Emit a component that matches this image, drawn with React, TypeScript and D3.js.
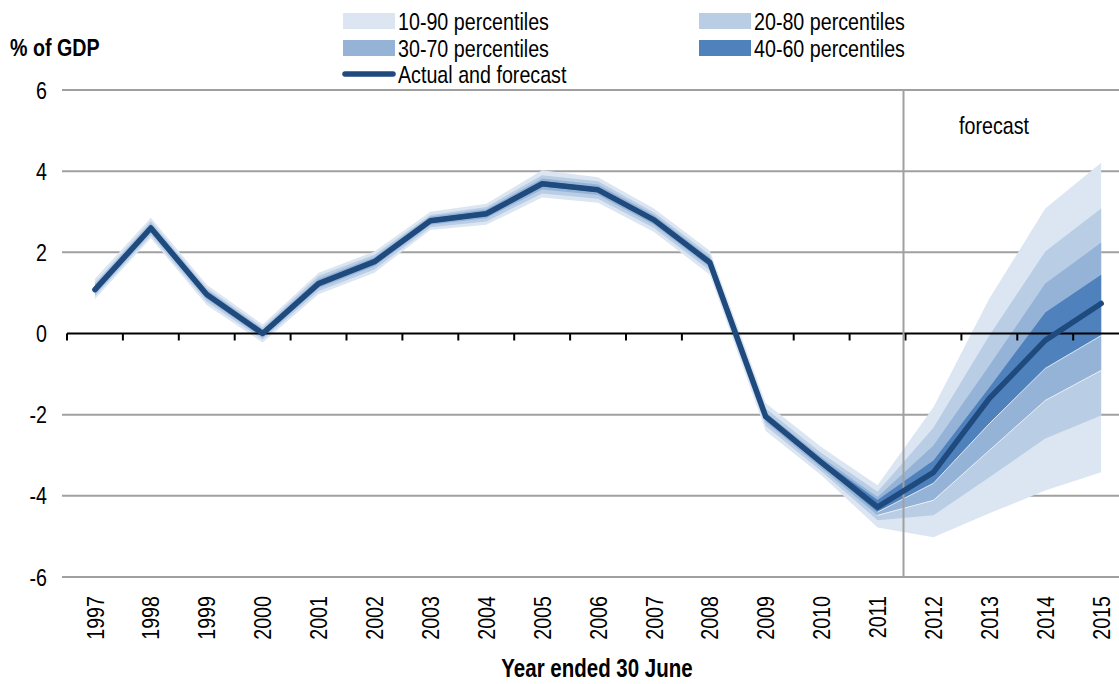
import React, { useEffect, useRef } from 'react';
import * as d3 from 'd3';

// Year ended 30 June
const years = ['1997', '1998', '1999', '2000', '2001', '2002', '2003', '2004', '2005', '2006',
  '2007', '2008', '2009', '2010', '2011', '2012', '2013', '2014', '2015'];

// Actual and forecast (% of GDP)
const central = [1.08, 2.6, 0.96, 0.0, 1.23, 1.77, 2.78, 2.95, 3.69, 3.54, 2.8, 1.75, -2.05, -3.18, -4.28, -3.42, -1.6, -0.17, 0.74];

// percentile bands
const p10 = [0.85, 2.35, 0.7, -0.22, 0.97, 1.5, 2.55, 2.68, 3.35, 3.22, 2.5, 1.45, -2.4, -3.5, -4.78, -5.02, -4.43, -3.87, -3.42];
const p90 = [1.35, 2.85, 1.2, 0.22, 1.5, 2.02, 3.0, 3.2, 4.02, 3.85, 3.08, 2.04, -1.72, -2.8, -3.74, -1.82, 0.86, 3.08, 4.21];
const p20 = [0.92, 2.42, 0.78, -0.15, 1.05, 1.58, 2.62, 2.76, 3.45, 3.32, 2.6, 1.55, -2.28, -3.4, -4.6, -4.48, -3.54, -2.59, -2.02];
const p80 = [1.25, 2.77, 1.12, 0.15, 1.42, 1.94, 2.92, 3.12, 3.9, 3.75, 2.98, 1.94, -1.85, -2.95, -3.9, -2.32, -0.05, 2.02, 3.08];
const p30 = [0.97, 2.49, 0.85, -0.1, 1.12, 1.66, 2.68, 2.84, 3.55, 3.41, 2.68, 1.63, -2.18, -3.32, -4.48, -4.11, -2.88, -1.65, -0.91];
const p70 = [1.2, 2.71, 1.07, 0.1, 1.35, 1.88, 2.88, 3.06, 3.82, 3.67, 2.92, 1.87, -1.94, -3.05, -4.03, -2.76, -0.79, 1.23, 2.24];
const p40 = [1.02, 2.54, 0.9, -0.05, 1.17, 1.71, 2.72, 2.89, 3.62, 3.48, 2.74, 1.69, -2.12, -3.25, -4.4, -3.69, -2.22, -0.86, -0.05];
const p60 = [1.14, 2.66, 1.02, 0.05, 1.29, 1.83, 2.84, 3.01, 3.76, 3.6, 2.86, 1.81, -1.99, -3.11, -4.1, -3.13, -1.33, 0.52, 1.45];

const yTicks = [6, 4, 2, 0, -2, -4, -6];
const forecastStart = '2012';
const lastActual = '2011';

const bandLabels = ['10-90 percentiles', '20-80 percentiles', '30-70 percentiles', '40-60 percentiles'];
const bandColors = ['#dce6f2', '#b9cde5', '#95b3d7', '#4f81bd'];
const lineColor = '#1f4a7e';
const lineLabel = 'Actual and forecast';

// no Arial Narrow here: squeeze Liberation Sans (Arial metrics) to 82%
const FONT = '"Liberation Sans", Arial, sans-serif';
const NARROW = 0.82;

const App = () => {
  const svgRef = useRef(null);

  useEffect(() => {
    if (!svgRef.current) return;
    const svg = d3.select(svgRef.current);
    svg.selectAll('*').remove();

    const W = 1119;
    const left = 67;
    const step = 55.9;

    const x = d3.scaleBand().domain(years).range([left, left + step * years.length]).padding(0);
    const cx = (yr) => x(yr) + x.bandwidth() / 2;
    const y = d3.scaleLinear().domain([-6, 6]).range([577, 90]);

    const label = (g, tx, ty, txt, opts: any = {}) => {
      const t = g.append('text')
        .attr('transform', `translate(${tx},${ty})${opts.rotate ? ' rotate(-90)' : ''} scale(${NARROW},1)`)
        .attr('font-family', FONT)
        .attr('font-size', opts.size || 24)
        .attr('fill', '#000')
        .attr('text-anchor', opts.anchor || 'start')
        .attr('dy', opts.dy || '0.36em')
        .text(txt);
      if (opts.bold) t.attr('font-weight', 'bold');
      return t;
    };

    // horizontal grid
    svg.append('g')
      .selectAll('line')
      .data(yTicks.filter(d => d !== 0))
      .join('line')
      .attr('x1', 62).attr('x2', W)
      .attr('y1', d => y(d)).attr('y2', d => y(d))
      .attr('stroke', '#a0a0a0').attr('stroke-width', 2);

    // fan bands, outer first
    const bands = [[p10, p90], [p20, p80], [p30, p70], [p40, p60]];
    bands.forEach(([lo, hi], i) => {
      const area = d3.area()
        .x((d, j) => cx(years[j]))
        .y0((d, j) => y(lo[j]))
        .y1((d, j) => y(hi[j]));
      svg.append('path')
        .attr('d', area(years))
        .attr('fill', bandColors[i]);
    });

    // thin white seams on the lower edges of the inner bands (forecast part)
    const k0 = years.indexOf(lastActual);
    [p30, p40].forEach(lo => {
      const seam = d3.line()
        .x((d, j) => cx(years[k0 + j]))
        .y(d => y(d));
      svg.append('path')
        .attr('d', seam(lo.slice(k0)))
        .attr('fill', 'none')
        .attr('stroke', '#fff')
        .attr('stroke-opacity', 0.85)
        .attr('stroke-width', 0.9);
    });

    // zero axis with category ticks
    svg.append('line')
      .attr('x1', left).attr('x2', W)
      .attr('y1', y(0)).attr('y2', y(0))
      .attr('stroke', '#000').attr('stroke-width', 2);
    svg.append('g')
      .selectAll('line')
      .data(years.map(d => x(d)))
      .join('line')
      .attr('x1', d => d).attr('x2', d => d)
      .attr('y1', y(0)).attr('y2', y(0) + 7)
      .attr('stroke', '#000').attr('stroke-width', 2);

    // forecast divider
    const fx = x(forecastStart) - 2;
    svg.append('line')
      .attr('x1', fx).attr('x2', fx)
      .attr('y1', y(6)).attr('y2', y(-6) + 1)
      .attr('stroke', '#a0a0a0').attr('stroke-width', 2);

    // central line
    const line = d3.line()
      .x((d, j) => cx(years[j]))
      .y(d => y(d));
    svg.append('path')
      .attr('d', line(central))
      .attr('fill', 'none')
      .attr('stroke', lineColor)
      .attr('stroke-width', 5.5)
      .attr('stroke-linejoin', 'round')
      .attr('stroke-linecap', 'round');

    // y labels
    const yl = svg.append('g');
    yTicks.forEach(v => label(yl, 47, y(v), String(v), { anchor: 'end' }));

    // x labels
    const xl = svg.append('g');
    years.forEach(yr => label(xl, cx(yr), 596, yr, { anchor: 'end', rotate: true }));

    // titles
    label(svg, 10, 47, '% of GDP', { bold: true });
    label(svg, 597, 668, 'Year ended 30 June', { bold: true, anchor: 'middle', size: 25 });
    label(svg, 994, 125, 'forecast', { anchor: 'middle' });

    // legend
    const legendPos = [[343, 21], [699, 21], [343, 48], [699, 48]];
    bandLabels.forEach((lab, i) => {
      const [lx, ly] = legendPos[i];
      svg.append('rect')
        .attr('x', lx).attr('y', ly - 8)
        .attr('width', 52).attr('height', 16)
        .attr('fill', bandColors[i]);
      label(svg, lx + 55, ly, lab);
    });
    svg.append('line')
      .attr('x1', 345).attr('x2', 393)
      .attr('y1', 74).attr('y2', 74)
      .attr('stroke', lineColor).attr('stroke-width', 5.5)
      .attr('stroke-linecap', 'round');
    label(svg, 398, 74, lineLabel);
  }, []);

  return (
    <svg
      ref={svgRef}
      width={1119}
      height={684}
      style={{ position: 'absolute', left: 0, top: 0, background: '#fff' }}
    />
  );
};

export default App;
